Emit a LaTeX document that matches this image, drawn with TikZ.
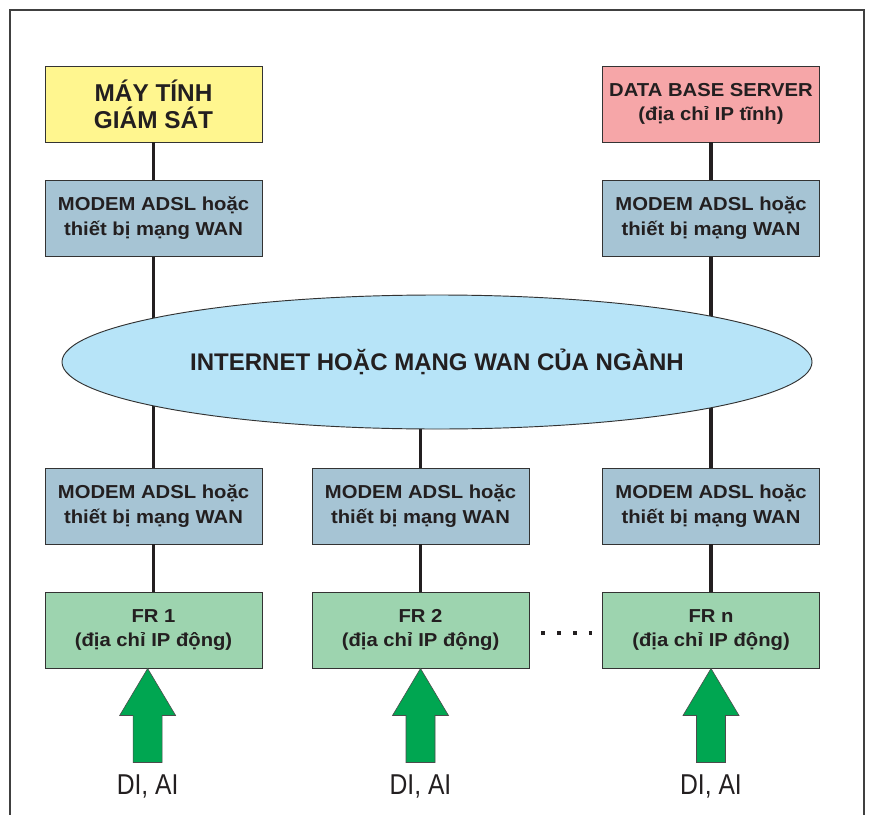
\documentclass[tikz,border=0pt]{standalone}
\usepackage{fontspec}
\setmainfont{Liberation Sans}
\newfontfamily\rong{Liberation Sans}[FakeStretch=1.08]
\newfontfamily\hep{Liberation Sans}[FakeStretch=0.86]
\usetikzlibrary{shapes.geometric,backgrounds}
\definecolor{chu}{RGB}{35,31,32}
\definecolor{mayvang}{RGB}{255,246,143}
\definecolor{serverhong}{RGB}{246,166,168}
\definecolor{modemxanh}{RGB}{166,196,212}
\definecolor{mangxanh}{RGB}{183,228,248}
\definecolor{frxanh}{RGB}{157,212,175}
\definecolor{muixanh}{RGB}{0,166,81}
\begin{document}
\begin{tikzpicture}[x=0.03cm,y=-0.03cm,
  hop/.style={draw=black!80,line width=0.8pt,minimum width=6.51cm,minimum height=2.28cm,inner sep=0pt,align=center,text=chu,font=\rong\bfseries\fontsize{16}{21.3}\selectfont},
  modem/.style={hop,fill=modemxanh},
  fr/.style={hop,fill=frxanh,font=\rong\bfseries\fontsize{16}{20.7}\selectfont},
  day/.style={line width=3pt,draw=chu},
  muiten/.style={fill=muixanh,draw=black!70,line width=0.5pt},
  nhan/.style={text=chu,font=\hep\fontsize{24.5}{28}\selectfont,inner sep=0pt}]
\useasboundingbox (0,0) rectangle (869,815);
\draw[black!75,line width=1.2pt] (10,815) -- (10,10) -- (864,10) -- (864,815);
% may tinh va server
\node[hop,fill=mayvang,font=\bfseries\fontsize{20.8}{22.8}\selectfont] (may) at (153.5,104) {MÁY TÍNH\\GIÁM SÁT};
\node[hop,fill=serverhong,font=\rong\bfseries\fontsize{16}{20.5}\selectfont] (server) at (711,104) {DATA BASE SERVER\\(địa chỉ IP tĩnh)};
\node[modem] (mt) at (153.5,218) {MODEM ADSL hoặc\\thiết bị mạng WAN};
\node[modem] (ms) at (711,218) {MODEM ADSL hoặc\\thiết bị mạng WAN};
% mang
\node[ellipse,draw=black!80,line width=0.8pt,fill=mangxanh,minimum width=22.5cm,minimum height=4.02cm,inner sep=0pt,text=chu,font=\bfseries\fontsize{20.5}{24}\selectfont] (mang) at (437,362) {INTERNET HOẶC MẠNG WAN CỦA NGÀNH};
% cac tram FR
\node[modem] (m1) at (153.5,506) {MODEM ADSL hoặc\\thiết bị mạng WAN};
\node[modem] (m2) at (420.5,506) {MODEM ADSL hoặc\\thiết bị mạng WAN};
\node[modem] (mn) at (711,506) {MODEM ADSL hoặc\\thiết bị mạng WAN};
\node[fr] (fr1) at (153.5,630) {FR 1\\(địa chỉ IP động)};
\node[fr] (fr2) at (420.5,630) {FR 2\\(địa chỉ IP động)};
\node[fr] (frn) at (711,630) {FR n\\(địa chỉ IP động)};
\draw[day] (may) -- (mt);
\draw[day] (server) -- (ms);
\begin{scope}[on background layer]
\draw[day] (mt) -- (m1);
\draw[day] (ms) -- (mn);
\draw[day] (mang.center -| m2.north) -- (m2);
\end{scope}
\draw[day] (m1) -- (fr1);
\draw[day] (m2) -- (fr2);
\draw[day] (mn) -- (frn);
\draw[chu,line width=3.4pt,dash pattern=on 3.4pt off 10.2pt] ([xshift=10pt,yshift=-2.8pt]fr2.east) -- ([xshift=-8.8pt,yshift=-2.8pt]frn.west);
% mui ten DI, AI
\foreach \f/\d in {fr1/-5pt,fr2/0pt,frn/0pt}
{\filldraw[muiten] ([xshift=\d]\f.south) -- ++(28,47) -- ++(-13.5,0) -- ++(0,47) -- ++(-29,0) -- ++(0,-47) -- ++(-13.5,0) -- cycle;
\path ([xshift=\d]\f.south) ++(0,118) node[nhan] (nhan\f) {DI, AI};
}
\end{tikzpicture}
\end{document}
